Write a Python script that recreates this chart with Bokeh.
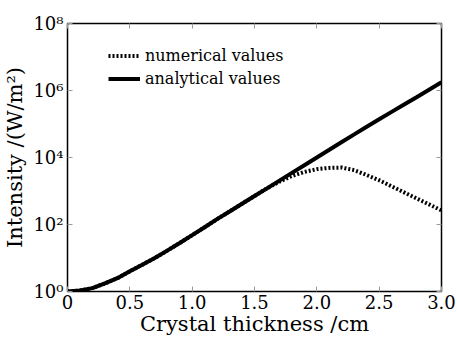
from bokeh.plotting import figure
from bokeh.models import (FixedTicker, CustomJSTickFormatter, LogAxis, LinearAxis,
                          Legend, LegendItem, ColumnDataSource)
from bokeh.embed import file_html
from bokeh.resources import INLINE

thickness = [0.0, 0.1, 0.2, 0.3, 0.4, 0.5, 0.6, 0.7, 0.8, 0.9, 1.0, 1.1, 1.2, 1.3, 1.4,
             1.5, 1.6, 1.7, 1.8, 1.9, 2.0, 2.1, 2.2, 2.3, 2.4, 2.5, 2.6, 2.7, 2.8, 2.9, 3.0]
analytical = [1.0, 1.07, 1.26, 1.74, 2.5, 4.0, 6.3, 10.0, 16.6, 28.0, 48.0, 83.0, 145.0,
              245.0, 417.0, 708.0, 1200.0, 2040.0, 3470.0, 5890.0, 1.0e4, 1.7e4, 2.9e4,
              4.9e4, 8.3e4, 1.38e5, 2.3e5, 3.8e5, 6.3e5, 1.05e6, 1.78e6]
numerical = [1.0, 1.07, 1.26, 1.74, 2.5, 4.0, 6.3, 10.0, 16.6, 28.0, 48.0, 83.0, 145.0,
             245.0, 417.0, 708.0, 1200.0, 1900.0, 2800.0, 3700.0, 4500.0, 4900.0, 5000.0,
             4200.0, 3000.0, 2100.0, 1380.0, 910.0, 600.0, 400.0, 263.0]
x_ticks = [0, 0.5, 1.0, 1.5, 2.0, 2.5, 3.0]
x_tick_labels = {0: "0", 0.5: "0.5", 1.0: "1.0", 1.5: "1.5", 2.0: "2.0", 2.5: "2.5", 3.0: "3.0"}
y_ticks = [1, 1e2, 1e4, 1e6, 1e8]

FONT = "DejaVu Serif"

p = figure(width=457, height=338, x_range=(0, 3.0), y_range=(1, 1e8),
           y_axis_type="log", output_backend="svg", toolbar_location=None,
           min_border_left=67, min_border_right=16, min_border_top=23, min_border_bottom=47)
p.grid.visible = False
p.outline_line_color = "black"
p.outline_line_width = 1.5
p.background_fill_color = "white"
p.border_fill_color = "white"

src = ColumnDataSource(dict(x=thickness, a=analytical, n=numerical))
r_num = p.line("x", "n", source=src, line_color="black", line_width=4, line_dash="2 2")
r_ana = p.line("x", "a", source=src, line_color="black", line_width=4)

sup_fmt = CustomJSTickFormatter(code="""
const sup = {'0':'\u2070','1':'\u00b9','2':'\u00b2','3':'\u00b3','4':'\u2074','5':'\u2075','6':'\u2076','7':'\u2077','8':'\u2078','9':'\u2079','-':'\u207b'};
const e = Math.round(Math.log10(tick));
return '10' + String(e).split('').map(c => sup[c]).join('');
""")

xa = p.xaxis[0]
xa.ticker = FixedTicker(ticks=x_ticks, minor_ticks=[])
xa.major_label_overrides = x_tick_labels
ya = p.yaxis[0]
ya.ticker = FixedTicker(ticks=y_ticks, minor_ticks=[])
ya.formatter = sup_fmt

for ax in (xa, ya):
    ax.axis_line_color = None
    ax.major_tick_in = 5
    ax.major_tick_out = 0
    ax.minor_tick_in = 0
    ax.minor_tick_out = 0
    ax.major_tick_line_color = "#999999"
    ax.major_label_text_font = FONT
    ax.major_label_text_font_size = "18px"
    ax.major_label_text_color = "black"
    ax.axis_label_text_font = FONT
    ax.axis_label_text_font_size = "21px"
    ax.axis_label_text_font_style = "normal"
    ax.axis_label_text_color = "black"

xa.axis_label = "Crystal thickness /cm"
xa.major_label_standoff = 3
xa.axis_label_standoff = 0
ya.axis_label = "Intensity /(W/m\u00b2)"
ya.major_label_standoff = 4
ya.axis_label_standoff = 3

top = LinearAxis(ticker=FixedTicker(ticks=x_ticks, minor_ticks=[]),
                 major_label_overrides={t: "" for t in x_ticks},
                 axis_line_color=None, major_tick_in=5, major_tick_out=0,
                 major_tick_line_color="#999999", minor_tick_in=0, minor_tick_out=0)
right = LogAxis(ticker=FixedTicker(ticks=y_ticks, minor_ticks=[]),
                formatter=CustomJSTickFormatter(code="return '';"),
                axis_line_color=None, major_tick_in=5, major_tick_out=0,
                major_tick_line_color="#999999", minor_tick_in=0, minor_tick_out=0)
p.add_layout(top, "above")
p.add_layout(right, "right")

legend = Legend(items=[LegendItem(label="numerical values", renderers=[r_num]),
                       LegendItem(label="analytical values", renderers=[r_ana])],
                location=(41, 201), border_line_color=None, background_fill_alpha=0,
                label_text_font=FONT, label_text_font_size="16px", label_text_color="black",
                glyph_width=32, glyph_height=23, label_height=23, spacing=0, padding=2,
                label_standoff=5)
p.add_layout(legend)

open("out.html", "w").write(file_html(p, INLINE))
